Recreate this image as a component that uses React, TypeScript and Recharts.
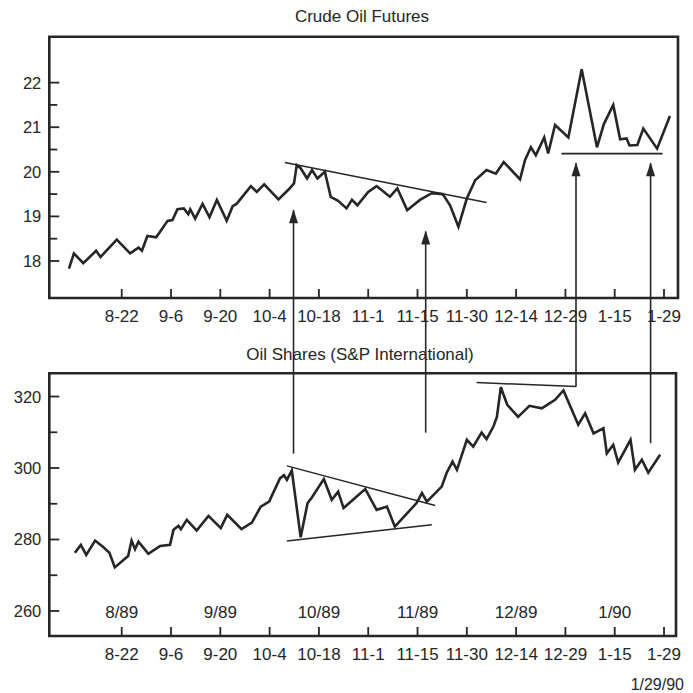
import React from "react";
import {
  LineChart,
  Line,
  XAxis,
  YAxis,
  ReferenceLine,
  ReferenceDot,
  ReferenceArea,
} from "recharts";

// ---------- data ----------
// x = trading-day index, tick labels every 10 days
const xTickDays = [10, 20, 30, 40, 50, 60, 70, 80, 90, 100, 110, 120];
const xTickLabels = ["8-22", "9-6", "9-20", "10-4", "10-18", "11-1", "11-15", "11-30", "12-14", "12-29", "1-15", "1-29"];
const monthLabels = ["8/89", "", "9/89", "", "10/89", "", "11/89", "", "12/89", "", "1/90", ""];
const dateStamp = "1/29/90";

const crudeTicks = [18, 18.5, 19, 19.5, 20, 20.5, 21, 21.5, 22];
const sharesTicks = [260, 270, 280, 290, 300, 310, 320];

const crudeDays = [
  -0.7, 0.3, 2.2, 4.8, 5.7, 9.0, 11.7, 13.4, 14.1, 15.2, 17.0, 19.3, 20.3, 21.3, 22.6,
  23.5, 23.9, 24.9, 26.4, 27.8, 29.3, 31.3, 32.5, 33.3, 36.2, 37.4, 38.9, 41.8, 44.0,
  44.95, 45.5, 46.3, 47.6, 48.6, 49.7, 51.2, 52.4, 53.9, 55.6, 56.7, 57.8, 60.0, 61.7,
  64.4, 65.9, 67.9, 70.5, 72.9, 75.1, 76.6, 78.3, 80.0, 81.7, 84.0, 85.9, 87.5, 90.8,
  91.8, 93.0, 94.0, 95.7, 96.5, 97.9, 100.6, 103.3, 106.4, 107.8, 109.7, 111.1, 112.4,
  113.0, 114.6, 115.8, 118.6, 121.2,
];
const crudePrices = [
  17.83, 18.17, 17.95, 18.23, 18.09, 18.48, 18.17, 18.3, 18.23, 18.56, 18.53, 18.9, 18.92, 19.16, 19.18,
  19.05, 19.16, 18.95, 19.28, 18.98, 19.37, 18.9, 19.23, 19.28, 19.68, 19.55, 19.72, 19.38, 19.62,
  19.74, 20.15, 20.08, 19.85, 20.04, 19.85, 20.0, 19.44, 19.35, 19.18, 19.37, 19.25, 19.55, 19.68,
  19.44, 19.63, 19.14, 19.37, 19.52, 19.5, 19.25, 18.77, 19.4, 19.81, 20.04, 19.96, 20.22, 19.83,
  20.26, 20.55, 20.37, 20.77, 20.41, 21.05, 20.77, 22.3, 20.55, 21.07, 21.5, 20.73, 20.75,
  20.59, 20.6, 20.97, 20.52, 21.25,
];

const shareDays = [
  0.5, 1.7, 2.8, 4.6, 6.3, 7.5, 8.6, 11.3, 12.0, 12.7, 13.4, 15.4, 17.8, 19.8, 20.5, 21.5,
  22.0, 23.2, 25.2, 27.6, 30.1, 31.4, 34.3, 36.4, 38.2, 39.9, 42.1, 42.9, 43.5, 44.5, 46.3,
  47.7, 48.5, 51.0, 52.6, 53.9, 55.0, 59.4, 61.7, 63.8, 65.4, 69.8, 70.9, 71.9, 74.9, 75.9,
  77.1, 78.0, 80.0, 81.3, 83.0, 84.0, 85.4, 86.1, 86.9, 88.2, 90.4, 92.7, 95.2, 97.9, 99.6,
  102.6, 104.0, 105.7, 107.7, 108.4, 109.7, 110.7, 113.2, 114.1, 115.5, 116.8, 119.2,
];
const shareValues = [
  276.3, 278.5, 275.7, 279.7, 277.8, 276.3, 272.2, 275.4, 279.7, 277.3, 279.4, 276.0, 278.2, 278.5, 282.7, 283.8,
  282.9, 285.5, 282.5, 286.6, 283.2, 286.9, 282.9, 284.7, 289.2, 290.6, 297.1, 298.0, 296.7, 299.3, 280.6,
  290.2, 291.6, 296.9, 291.1, 293.4, 288.8, 294.1, 288.3, 289.2, 283.6, 290.2, 293.0, 290.6, 294.8, 298.6,
  301.8, 299.5, 307.9, 306.0, 309.9, 308.1, 311.6, 314.3, 322.6, 317.7, 314.3, 317.4, 316.7, 319.1, 321.7,
  312.1, 315.3, 309.7, 311.1, 304.1, 306.5, 301.5, 307.9, 299.5, 302.3, 298.7, 303.7,
];

// annotation lines (data coordinates)
const crudeTrend = [{ day: 43.1, v: 20.21 }, { day: 84.0, v: 19.31 }];
const crudeSupport = [{ day: 99.2, v: 20.41 }, { day: 119.7, v: 20.41 }];
// arrows: tip on crude chart, foot expressed in crude-chart units (extends into lower panel)
const arrowDays = [44.85, 71.66, 102.15, 117.28];
const arrowTips = [19.14, 18.66, 20.19, 20.19];
const arrowFeet = [13.68, 14.15, 15.18, 13.91];

const sharesUpper = [{ day: 43.5, v: 300.6 }, { day: 73.6, v: 289.5 }];
const sharesLower = [{ day: 43.5, v: 279.6 }, { day: 72.9, v: 284.1 }];
const sharesTop = [{ day: 82.0, v: 323.9 }, { day: 102.15, v: 322.8 }];

const crudeData = crudeDays.map((d, i) => ({ day: d, price: crudePrices[i] }));
const shareData = shareDays.map((d, i) => ({ day: d, value: shareValues[i] }));

// ---------- styling ----------
const INK = "#262626";
const FONT = "'Liberation Sans', Arial, sans-serif";
const W = 685;
const H = 685;

const TOP_X = [-4.69, 122.84];
const TOP_Y = [17.17, 23.03];
const BOT_X = [-4.69, 122.43];
const BOT_Y = [253.0, 326.5];

const YTick = (props: any) => {
  const { x, y, payload, isMajor } = props;
  const v = payload.value;
  const major = isMajor(v);
  return (
    <g>
      <line x1={x} x2={x + (major ? 10 : 8)} y1={y} y2={y} stroke={INK} strokeWidth={1.8} />
      {major && (
        <text x={x - 8} y={y} textAnchor="end" dominantBaseline="central" fontSize={16.5} fill={INK} fontFamily={FONT}>
          {v}
        </text>
      )}
    </g>
  );
};

const XTick = (props: any) => {
  const { x, y, index, showMonths } = props;
  return (
    <g>
      <line x1={x} x2={x} y1={y} y2={y - 9} stroke={INK} strokeWidth={1.8} />
      <text x={x} y={y + 18} textAnchor="middle" dominantBaseline="central" fontSize={17} fill={INK} fontFamily={FONT}>
        {xTickLabels[index]}
      </text>
      {showMonths && monthLabels[index] && (
        <text x={x} y={y - 24} textAnchor="middle" dominantBaseline="central" fontSize={17} fill={INK} fontFamily={FONT}>
          {monthLabels[index]}
        </text>
      )}
      {showMonths && index === xTickLabels.length - 1 && (
        <text x={x + 20} y={y + 48} textAnchor="end" dominantBaseline="central" fontSize={16} fill={INK} fontFamily={FONT}>
          {dateStamp}
        </text>
      )}
    </g>
  );
};

const ArrowHead = (props: any) => {
  const { cx, cy } = props;
  return <polygon points={`${cx},${cy - 1} ${cx - 4.5},${cy + 13} ${cx + 4.5},${cy + 13}`} fill={INK} />;
};

export default function App() {
  return (
    <div style={{ position: "relative", width: W, height: H, background: "#fff", fontFamily: FONT }}>
      <div style={{ position: "absolute", left: 204, top: 0, width: 300, textAlign: "center", fontSize: 17, lineHeight: "17px", color: INK }}>
        Crude Oil Futures
      </div>
      <div style={{ position: "absolute", left: 152, top: 338, width: 400, textAlign: "center", fontSize: 17, lineHeight: "17px", color: INK }}>
        Oil Shares (S&amp;P International)
      </div>

      <div style={{ position: "absolute", left: 0, top: 0 }}>
        <LineChart width={W} height={H} data={crudeData} margin={{ top: 28.7, right: 15, bottom: 365, left: 1.3 }}>
          <XAxis
            dataKey="day"
            type="number"
            domain={TOP_X}
            allowDataOverflow
            ticks={xTickDays}
            interval={0}
            tickSize={0}
            tickMargin={0}
            axisLine={false}
            tickLine={false}
            height={30}
            tick={(p: any) => <XTick {...p} showMonths={false} />}
          />
          <YAxis
            type="number"
            domain={TOP_Y}
            allowDataOverflow
            ticks={crudeTicks}
            interval={0}
            tickSize={0}
            tickMargin={0}
            axisLine={false}
            tickLine={false}
            width={40}
            tick={(p: any) => <YTick {...p} isMajor={(v: number) => Number.isInteger(v)} />}
          />
          <ReferenceArea x1={TOP_X[0]} x2={TOP_X[1]} y1={TOP_Y[0]} y2={TOP_Y[1]} fill="none" fillOpacity={0} stroke={INK} strokeWidth={2.6} ifOverflow="visible" />
          <Line dataKey="price" stroke={INK} strokeWidth={2.6} dot={false} isAnimationActive={false} strokeLinejoin="miter" />
          <ReferenceLine segment={[{ x: crudeTrend[0].day, y: crudeTrend[0].v }, { x: crudeTrend[1].day, y: crudeTrend[1].v }]} stroke={INK} strokeWidth={1.5} ifOverflow="visible" />
          <ReferenceLine segment={[{ x: crudeSupport[0].day, y: crudeSupport[0].v }, { x: crudeSupport[1].day, y: crudeSupport[1].v }]} stroke={INK} strokeWidth={1.8} ifOverflow="visible" />
          {arrowDays.map((d, i) => (
            <ReferenceLine key={"a" + i} segment={[{ x: d, y: arrowTips[i] }, { x: d, y: arrowFeet[i] }]} stroke={INK} strokeWidth={1.6} ifOverflow="visible" />
          ))}
          {arrowDays.map((d, i) => (
            <ReferenceDot key={"h" + i} x={d} y={arrowTips[i]} r={4} shape={ArrowHead} ifOverflow="visible" />
          ))}
        </LineChart>
      </div>

      <div style={{ position: "absolute", left: 0, top: 0 }}>
        <LineChart width={W} height={H} data={shareData} margin={{ top: 365.3, right: 17, bottom: 27, left: 1.3 }}>
          <XAxis
            dataKey="day"
            type="number"
            domain={BOT_X}
            allowDataOverflow
            ticks={xTickDays}
            interval={0}
            tickSize={0}
            tickMargin={0}
            axisLine={false}
            tickLine={false}
            height={30}
            tick={(p: any) => <XTick {...p} showMonths={true} />}
          />
          <YAxis
            type="number"
            domain={BOT_Y}
            allowDataOverflow
            ticks={sharesTicks}
            interval={0}
            tickSize={0}
            tickMargin={0}
            axisLine={false}
            tickLine={false}
            width={40}
            tick={(p: any) => <YTick {...p} isMajor={(v: number) => v % 20 === 0} />}
          />
          <ReferenceArea x1={BOT_X[0]} x2={BOT_X[1]} y1={BOT_Y[0]} y2={BOT_Y[1]} fill="none" fillOpacity={0} stroke={INK} strokeWidth={2.6} ifOverflow="visible" />
          <Line dataKey="value" stroke={INK} strokeWidth={2.6} dot={false} isAnimationActive={false} strokeLinejoin="miter" />
          <ReferenceLine segment={[{ x: sharesUpper[0].day, y: sharesUpper[0].v }, { x: sharesUpper[1].day, y: sharesUpper[1].v }]} stroke={INK} strokeWidth={1.5} ifOverflow="visible" />
          <ReferenceLine segment={[{ x: sharesLower[0].day, y: sharesLower[0].v }, { x: sharesLower[1].day, y: sharesLower[1].v }]} stroke={INK} strokeWidth={1.5} ifOverflow="visible" />
          <ReferenceLine segment={[{ x: sharesTop[0].day, y: sharesTop[0].v }, { x: sharesTop[1].day, y: sharesTop[1].v }]} stroke={INK} strokeWidth={1.5} ifOverflow="visible" />
        </LineChart>
      </div>
    </div>
  );
}
